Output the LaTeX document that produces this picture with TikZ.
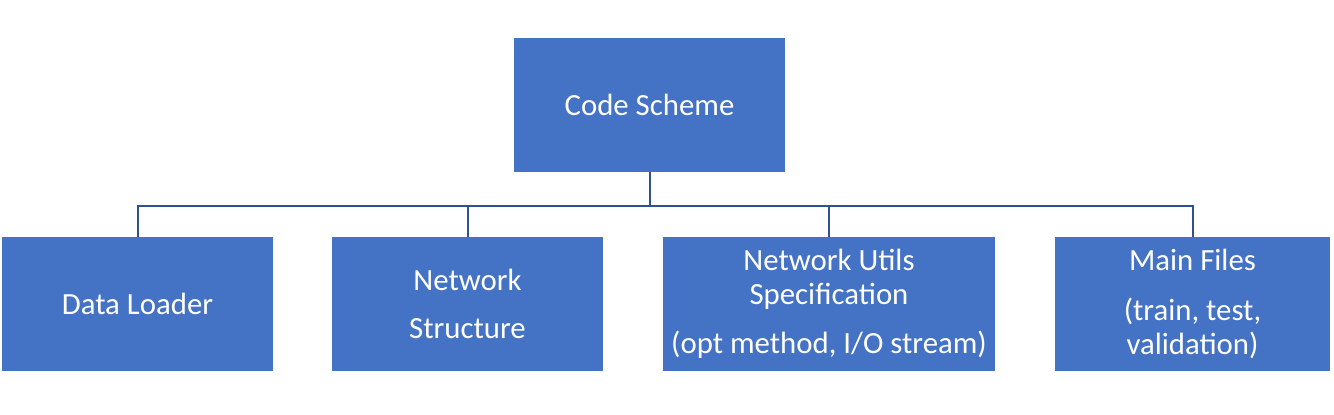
\documentclass[tikz,border=0pt]{standalone}
\usepackage{fontspec}
\setmainfont{Carlito}
\usepackage{tikz}
\usetikzlibrary{positioning,calc}

\definecolor{boxblue}{HTML}{4472C4}
\definecolor{linkblue}{HTML}{2F528F}

\begin{document}
\begin{tikzpicture}[x=1pt,y=-1pt,
  box/.style={rectangle, fill=boxblue, text=white, align=center,
    minimum width=271pt, minimum height=134pt, inner sep=0pt,
    font=\fontsize{30.8}{34}\selectfont},
  link/.style={draw=linkblue, line width=2pt}]
    \useasboundingbox (0,0) rectangle (1334,415);

    \node[box]                      (root)   at (649.5,105)  {Code Scheme};
    \node[box]                      (loader) at (137.5,304)  {Data Loader};
    \node[box]                      (net)    at (467.5,304)  {Network\\[14pt]Structure};
    \node[box,minimum width=332pt]  (utils)  at (829,304)    {Network Utils\\Specification\\[15pt](opt method, I/O stream)};
    \node[box,minimum width=275pt]  (mainf)  at (1192.5,304) {Main Files\\[16pt](train, test,\\validation)};

    % tree links
    \draw[link] (root.south) -- ++(0,34) -| (loader.north);
    \draw[link] (root.south) -- ++(0,34) -| (net.north);
    \draw[link] (root.south) -- ++(0,34) -| (utils.north);
    \draw[link] (root.south) -- ++(0,34) -| (mainf.north);

\end{tikzpicture}
\end{document}
